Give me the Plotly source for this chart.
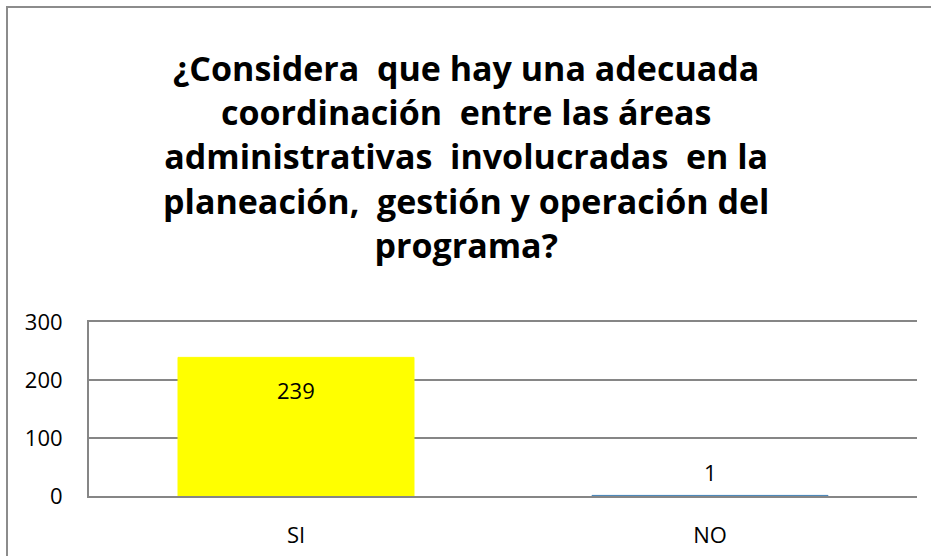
import plotly.graph_objects as go

categories = ["SI", "NO"]
values = [239, 1]
bar_colors = ["#FFFF00", "#4A86B8"]
title_lines = [
    "¿Considera  que hay una adecuada",
    "coordinación  entre las áreas",
    "administrativas  involucradas  en la",
    "planeación,  gestión y operación del",
    "programa?",
]
y_ticks = [0, 100, 200, 300]

W, H = 931, 556
L, R, T, B = 89, 14, 322, 60
pw, ph = W - L - R, H - T - B

FONT = "Open Sans"

fig = go.Figure()
fig.add_trace(go.Bar(
    x=categories, y=values,
    marker=dict(color=bar_colors, line=dict(width=1, color=bar_colors)),
    width=0.57,
    hoverinfo="skip",
))

# data labels
shifts = [-33, 23]
for c, v, s in zip(categories, values, shifts):
    fig.add_annotation(x=c, y=v, text=str(v), showarrow=False, yshift=s,
                       font=dict(family=FONT, size=22, color="#000000"))

# title (single multi-line text)
title_center = 156
fig.add_annotation(xref="paper", yref="paper", x=(W / 2 - L) / pw,
                   y=1 + (T - title_center) / ph,
                   text="<b>" + "<br>".join(title_lines) + "</b>",
                   showarrow=False, xanchor="center", yanchor="middle",
                   align="center",
                   font=dict(family=FONT, size=34, color="#000000"))

# outer chart border (left and top only visible)
bx = (7 - L) / pw
by = 1 + (T - 7) / ph
fig.add_shape(type="path", xref="paper", yref="paper",
              path=f"M {bx} {-(B + 10) / ph} L {bx} {by} L {1 + (R + 10) / pw} {by}",
              line=dict(color="#8C8C8C", width=2))

fig.update_layout(
    width=W, height=H,
    margin=dict(l=L, r=R, t=T, b=B, pad=0, autoexpand=False),
    paper_bgcolor="white", plot_bgcolor="white",
    showlegend=False,
    font=dict(family=FONT, color="#000000"),
    xaxis=dict(showgrid=False, showline=True, mirror=True, linecolor="#868686",
               linewidth=2, ticks="", zeroline=False, automargin=False,
               layer="below traces",
               tickfont=dict(family=FONT, size=22, color="#000000"),
               ticklabelstandoff=19),
    yaxis=dict(range=[0, 300], tickvals=y_ticks, showgrid=True,
               gridcolor="#868686", gridwidth=2, zeroline=False, automargin=False,
               showline=True, linecolor="#868686", linewidth=2,
               layer="below traces",
               ticks="", tickfont=dict(family=FONT, size=22, color="#000000"),
               ticklabelstandoff=20),
)

fig.write_html("out.html", config={"displayModeBar": False},
               post_script="document.body.style.margin='0';")
